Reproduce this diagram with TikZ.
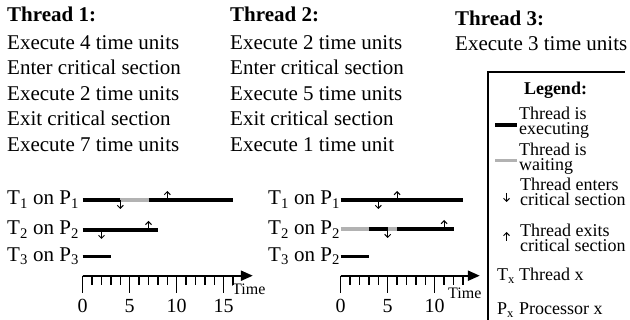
\documentclass[tikz,border=0pt]{standalone}
\usepackage{fontspec}
\setmainfont{Liberation Serif}
\usetikzlibrary{arrows.meta}
\begin{document}
\begin{tikzpicture}[x=1pt,y=-1pt,
  txt/.style={font=\fontsize{21}{25}\selectfont, anchor=base west, inner sep=0pt},
  head/.style={font=\fontsize{21}{25}\selectfont\bfseries, anchor=base west, inner sep=0pt},
  leg/.style={font=\fontsize{18}{15}\selectfont, anchor=base west, inner sep=0pt},
  legtwo/.style={font=\fontsize{18}{15.5}\selectfont, align=left, anchor=north west, inner sep=0pt},
  ticklab/.style={font=\fontsize{20}{22}\selectfont, anchor=base, inner sep=0pt},
  timelab/.style={font=\fontsize{16}{18}\selectfont, anchor=base west, inner sep=0pt},
  exec/.style={line width=3.2pt, black},
  waitbar/.style={line width=3.2pt, black!30},
  crit/.style={line width=1pt, -{Straight Barb[length=3pt,width=6pt]}},
  axis/.style={line width=2.2pt, -{Triangle[length=12pt,width=10pt]}},
  tickline/.style={line width=1.3pt}
]
\useasboundingbox (0,0) rectangle (630,320);

% ---- Thread descriptions
\node[head] (h1) at (7,22) {Thread 1:};
\node[txt] (a1) at (7,49.5) {Execute 4 time units};
\node[txt] (a2) at (7,75) {Enter critical section};
\node[txt] (a3) at (7,100.5) {Execute 2 time units};
\node[txt] (a4) at (7,126) {Exit critical section};
\node[txt] (a5) at (7,151.5) {Execute 7 time units};

\node[head] (h2) at (230,22) {Thread 2:};
\node[txt] (b1) at (230,49.5) {Execute 2 time units};
\node[txt] (b2) at (230,75) {Enter critical section};
\node[txt] (b3) at (230,100.5) {Execute 5 time units};
\node[txt] (b4) at (230,126) {Exit critical section};
\node[txt] (b5) at (230,151.5) {Execute 1 time unit};

\node[head] (h3) at (455,25.5) {Thread 3:};
\node[txt] (c1) at (455,51) {Execute 3 time units};

% ---- Left timeline
\node[txt] (l1) at (7,205) {T\textsubscript{1} on P\textsubscript{1}};
\node[txt] (l2) at (7,235) {T\textsubscript{2} on P\textsubscript{2}};
\node[txt] (l3) at (7,261.5) {T\textsubscript{3} on P\textsubscript{3}};
\begin{scope}[shift={(82.7,0)}, x=9.4pt]
  \draw[exec] (0,200) -- (4,200);
  \draw[waitbar] (4,200) -- (7,200);
  \draw[exec] (7,200) -- (16,200);
  \draw[crit] (4,200) -- (4,209);
  \draw[crit] (9,200) -- (9,191);
  \draw[exec] (0,230) -- (8,230);
  \draw[crit] (2,230) -- (2,239);
  \draw[crit] (7,230) -- (7,221);
  \draw[exec] (0,256.7) -- (3,256.7);
  \draw[axis] (0,275.7) -- (18.1,275.7);
  \foreach \i in {0,...,16} {\draw[tickline] (\i,275.7) -- (\i,285);}
  \foreach \i in {0,5,10,15} {\draw[tickline] (\i,275.7) -- (\i,293);
    \node[ticklab] at (\i,313) {\i};}
\end{scope}
\node[timelab] (tl) at (232,295) {Time};

% ---- Right timeline
\node[txt] (r1) at (268,205) {T\textsubscript{1} on P\textsubscript{1}};
\node[txt] (r2) at (268,235) {T\textsubscript{2} on P\textsubscript{2}};
\node[txt] (r3) at (268,261.5) {T\textsubscript{3} on P\textsubscript{2}};
\begin{scope}[shift={(340.7,0)}, x=9.4pt]
  \draw[exec] (0,200) -- (13,200);
  \draw[crit] (4,200) -- (4,209);
  \draw[crit] (6,200) -- (6,191);
  \draw[waitbar] (0,229) -- (3,229);
  \draw[exec] (3,229) -- (5,229);
  \draw[waitbar] (5,229) -- (6,229);
  \draw[exec] (6,229) -- (12,229);
  \draw[crit] (5,229) -- (5,238);
  \draw[crit] (11,229) -- (11,220);
  \draw[exec] (0,256.7) -- (3,256.7);
  \draw[axis] (0,275.7) -- (14.8,275.7);
  \foreach \i in {0,...,13} {\draw[tickline] (\i,275.7) -- (\i,285);}
  \foreach \i in {0,5,10} {\draw[tickline] (\i,275.7) -- (\i,293);
    \node[ticklab] at (\i,313) {\i};}
\end{scope}
\node[timelab] (tr) at (448,299) {Time};

% ---- Legend
\draw[line width=1.2pt] (488,330) -- (488,72) -- (625,72);
\node[leg, font=\fontsize{18}{16}\selectfont\bfseries, anchor=base] (lg) at (555.5,95) {Legend:};
\draw[exec] (495,125) -- (517,125);
\node[legtwo] (e1) at (519,106.7) {Thread is\\executing};
\draw[waitbar] (495,160.5) -- (517,160.5);
\node[legtwo] (w1) at (519,142.7) {Thread is\\waiting};
\draw[crit] (506.5,193) -- (506.5,202);
\node[legtwo] (n1) at (520,177.7) {Thread enters\\critical section};
\draw[crit] (506.5,241) -- (506.5,232);
\node[legtwo] (x1) at (520,223.7) {Thread exits\\critical section};
\node[leg] (tx) at (497,281) {T\textsubscript{x}};
\node[leg] (txd) at (519,281) {Thread x};
\node[leg] (px) at (497,315) {P\textsubscript{x}};
\node[leg] (pxd) at (519,315) {Processor x};
\end{tikzpicture}
\end{document}
